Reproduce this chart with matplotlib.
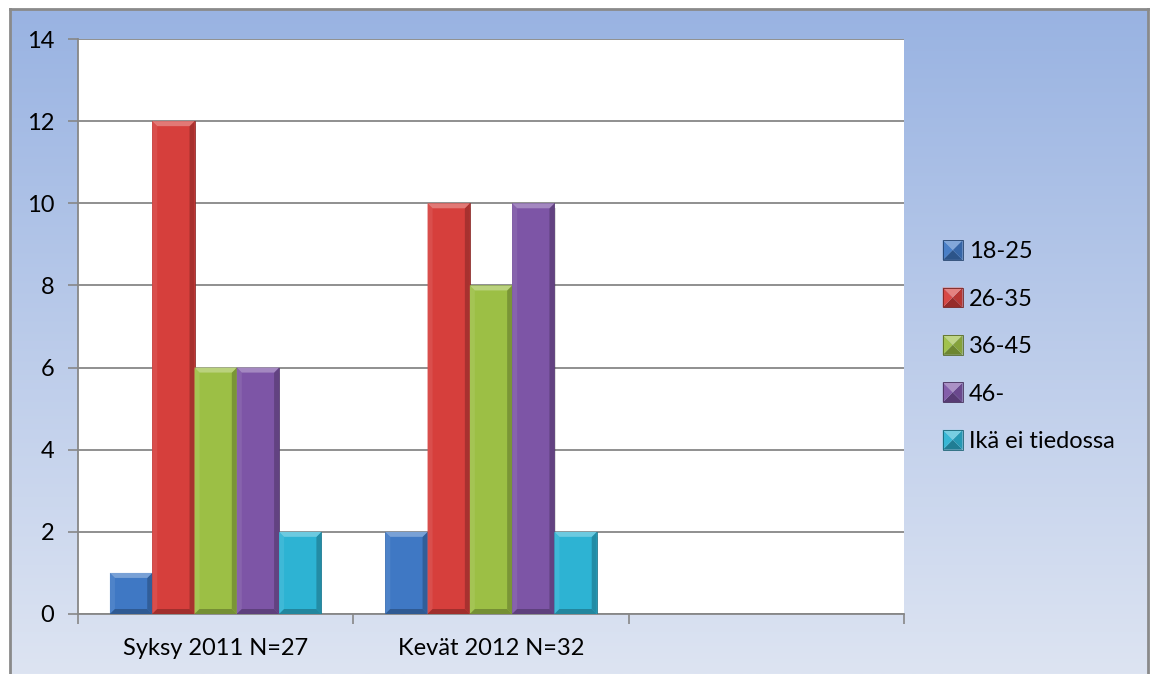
import matplotlib.pyplot as plt
import numpy as np
from matplotlib.patches import Rectangle, Polygon
from matplotlib.colors import to_rgb
from matplotlib.legend_handler import HandlerBase

# Data
categories = ['Syksy 2011 N=27', 'Kevät 2012 N=32', '']
series = ['18-25', '26-35', '36-45', '46-', 'Ikä ei tiedossa']
values = {
    '18-25': [1, 2, 0],
    '26-35': [12, 10, 0],
    '36-45': [6, 8, 0],
    '46-': [6, 10, 0],
    'Ikä ei tiedossa': [2, 2, 0],
}
yticks = [0, 2, 4, 6, 8, 10, 12, 14]
colors = ['#3f78c4', '#d63f3c', '#9cbf45', '#7d55a6', '#2db3d3']

plt.rcParams['font.family'] = ['Lato', 'DejaVu Sans']

W, H = 1157, 674
fig = plt.figure(figsize=(W / 100, H / 100), dpi=100)
fig.patch.set_facecolor('white')


def shade(c, f):
    r = np.array(to_rgb(c))
    if f > 0:
        return tuple(r + (1 - r) * f)
    return tuple(r * (1 + f))


# gradient chart area with frame
bg = fig.add_axes([10 / W, 0, 1138 / W, 1 - 9 / H], zorder=0)
grad = np.linspace(0, 1, 256)[:, None]
top, bot = np.array(to_rgb('#99b3e2')), np.array(to_rgb('#dde4f2'))
img = top[None, None, :] * (1 - grad[..., None]) + bot[None, None, :] * grad[..., None]
bg.imshow(img, aspect='auto', extent=[0, 1, 0, 1], origin='upper')
bg.set_xlim(0, 1)
bg.set_ylim(0, 1)
bg.set_xticks([])
bg.set_yticks([])
for s in bg.spines.values():
    s.set_color('#8a8a8a')
    s.set_linewidth(2)
bg.spines['bottom'].set_visible(False)

ax = fig.add_axes([78 / W, 60 / H, 826 / W, 575 / H], zorder=1)
ax.set_facecolor('white')

n = len(series)
bw = 0.1536
x = np.arange(len(categories))
px_x = 826 / 3.0
px_y = 575 / 14.0
bx = 5 / px_x
by = 5 / px_y

for i, name in enumerate(series):
    offs = x - bw * n / 2 + bw * (i + 0.5)
    bars = ax.bar(offs, values[name], bw, color=colors[i], zorder=3,
                  edgecolor=shade(colors[i], -0.4), linewidth=0.5)
    for b in bars:
        h = b.get_height()
        if h <= 0:
            continue
        x0 = b.get_x()
        x1 = x0 + b.get_width()
        c = colors[i]
        # shadow
        ax.add_patch(Rectangle((x0 + 0.004, -0.12), x1 - x0, h, color='#000000',
                               alpha=0.12, zorder=2, lw=0))
        # right side darker
        ax.add_patch(Polygon([(x1 - bx, by), (x1, 0), (x1, h), (x1 - bx, h - by)],
                             closed=True, color=shade(c, -0.22), lw=0, zorder=4))
        # left side lighter
        ax.add_patch(Polygon([(x0, 0), (x0 + bx, by), (x0 + bx, h - by), (x0, h)],
                             closed=True, color=shade(c, 0.08), lw=0, zorder=4))
        # bottom darker
        ax.add_patch(Polygon([(x0, 0), (x1, 0), (x1 - bx, by), (x0 + bx, by)],
                             closed=True, color=shade(c, -0.25), lw=0, zorder=4))
        # top bevel lighter
        ax.add_patch(Polygon([(x0, h), (x1, h), (x1 - bx, h - by), (x0 + bx, h - by)],
                             closed=True, color=shade(c, 0.3), lw=0, zorder=4))

ax.set_xlim(-0.5, len(categories) - 0.5)
ax.set_ylim(0, 14)
ax.set_yticks(yticks)
ax.yaxis.grid(True, color='#878787', linewidth=1.3, zorder=0)
ax.set_axisbelow(True)

ax.set_xticks(np.arange(-0.5, len(categories), 1.0))
ax.set_xticklabels([])
ax.set_xticks(x, minor=True)
ax.set_xticklabels(categories, minor=True)
ax.tick_params(axis='x', which='minor', length=0, pad=17, labelsize=17)
ax.tick_params(axis='x', which='major', length=7, width=1.2, color='#878787', direction='out')
ax.tick_params(axis='y', length=7, width=1.2, color='#878787', direction='out', pad=10,
               labelsize=17)

for s in ['top', 'right']:
    ax.spines[s].set_visible(False)
for s in ['left', 'bottom']:
    ax.spines[s].set_color('#878787')
    ax.spines[s].set_linewidth(1.3)


class BevelHandler(HandlerBase):
    def create_artists(self, legend, orig, xd, yd, width, height, fontsize, trans):
        c = orig.get_facecolor()
        s = height * 1.2
        x0 = xd + (width - s) / 2
        y0 = yd + (height - s) / 2
        x1, y1 = x0 + s, y0 + s
        m = s * 0.5
        cx, cy = x0 + m, y0 + m
        arts = [
            Polygon([(x0, y0), (x1, y0), (cx, cy)], color=shade(c, -0.3), lw=0),
            Polygon([(x1, y0), (x1, y1), (cx, cy)], color=shade(c, -0.15), lw=0),
            Polygon([(x0, y1), (x1, y1), (cx, cy)], color=shade(c, 0.35), lw=0),
            Polygon([(x0, y0), (x0, y1), (cx, cy)], color=shade(c, 0.05), lw=0),
            Rectangle((x0, y0), s, s, fill=False, edgecolor=shade(c, -0.45), lw=0.6),
        ]
        for a in arts:
            a.set_transform(trans)
        return arts


handles = [Rectangle((0, 0), 1, 1, facecolor=c) for c in colors]
leg = fig.legend(handles, series, loc='upper left', bbox_to_anchor=(922 / W, 1 - 220 / H),
                 frameon=False, fontsize=17, labelspacing=1.12, handlelength=0.8,
                 handletextpad=0.3, handler_map={Rectangle: BevelHandler()})

fig.savefig('out.png', dpi=100, facecolor='white')
